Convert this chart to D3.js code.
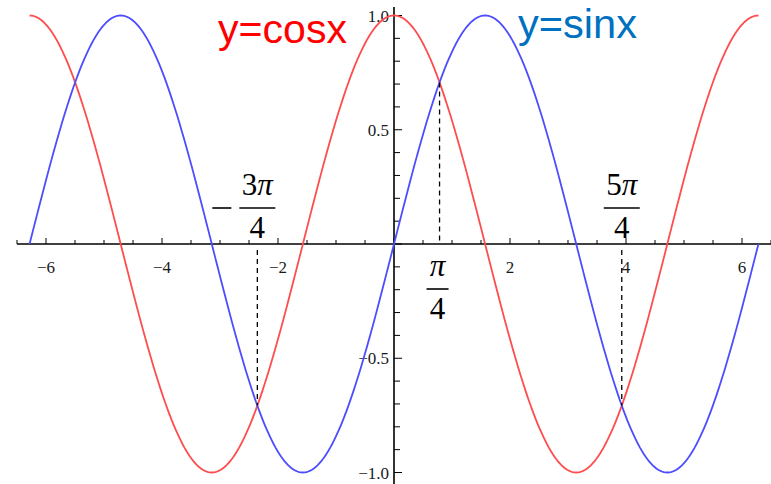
<!DOCTYPE html>
<html>
<head>
<meta charset="utf-8">
<script src="https://cdn.jsdelivr.net/npm/d3@7"></script>
<style>
  html, body { margin: 0; padding: 0; background: #fff; }
  svg { display: block; }
</style>
</head>
<body>
<svg id="chart" width="771" height="484"></svg>
<script>
// Sample points along one full span of both curves
const PI = Math.PI;
const sampleX = d3.range(0, 401).map(i => -2 * PI + i * (4 * PI / 400));
const cosValues = sampleX.map(Math.cos);
const sinValues = sampleX.map(Math.sin);

// Axis ticks
const xMajorTicks = [-6, -4, -2, 2, 4, 6];
const xMinorTicks = d3.range(-6.5, 6.51, 0.5);
const yMajorTicks = [-1, -0.5, 0.5, 1];
const yTickLabels = ["\u22121.0", "\u22120.5", "0.5", "1.0"];
const yMinorTicks = d3.range(-10, 11).map(i => i / 10);

// Marked intersection points of the two curves
const markers = [
  { x: PI / 4, y: Math.SQRT1_2, coef: "", neg: false, below: true },
  { x: -3 * PI / 4, y: -Math.SQRT1_2, coef: "3", neg: true, below: false },
  { x: 5 * PI / 4, y: -Math.SQRT1_2, coef: "5", neg: false, below: false }
];

const svg = d3.select("#chart");
const x = d3.scaleLinear().domain([-6.5, 6.5]).range([17, 771]);
const y = d3.scaleLinear().domain([-1, 1]).range([472.5, 15.5]);

const redLine = "#ff4d4d";
const blueLine = "#4d4dff";

// Axes
svg.append("line")
  .attr("x1", x(-6.5)).attr("x2", 771)
  .attr("y1", y(0)).attr("y2", y(0))
  .attr("stroke", "#000").attr("stroke-width", 1.6);
svg.append("line")
  .attr("x1", x(0)).attr("x2", x(0))
  .attr("y1", 7).attr("y2", 484)
  .attr("stroke", "#000").attr("stroke-width", 1.6);

// x ticks (pointing up)
svg.append("g").selectAll("line").data(xMinorTicks).join("line")
  .attr("x1", d => x(d)).attr("x2", d => x(d))
  .attr("y1", y(0)).attr("y2", d => y(0) - (Number.isInteger(d / 2) ? 6 : 4))
  .attr("stroke", "#000").attr("stroke-width", 1);
svg.append("g").selectAll("text").data(xMajorTicks).join("text")
  .attr("x", d => x(d)).attr("y", y(0) + 29)
  .attr("text-anchor", "middle")
  .attr("font-family", "Liberation Serif, serif")
  .attr("font-size", 17)
  .attr("fill", "#1a1a1a")
  .text(d => d < 0 ? "\u2212" + Math.abs(d) : d);

// y ticks (pointing right)
svg.append("g").selectAll("line").data(yMinorTicks).join("line")
  .attr("x1", x(0)).attr("x2", d => x(0) + (Math.abs(d * 2 - Math.round(d * 2)) < 1e-9 ? 8 : 6))
  .attr("y1", d => y(d)).attr("y2", d => y(d))
  .attr("stroke", "#000").attr("stroke-width", 1);
svg.append("g").selectAll("text").data(yMajorTicks).join("text")
  .attr("x", x(0) - 5).attr("y", d => y(d) + 6)
  .attr("text-anchor", "end")
  .attr("font-family", "Liberation Serif, serif")
  .attr("font-size", 17)
  .attr("fill", "#1a1a1a")
  .text((d, i) => yTickLabels[i]);

// Curves
const line = d3.line().x((d, i) => x(sampleX[i])).y(d => y(d)).curve(d3.curveLinear);
svg.append("path").datum(cosValues)
  .attr("d", line).attr("fill", "none")
  .attr("stroke", redLine).attr("stroke-width", 1.8);
svg.append("path").datum(sinValues)
  .attr("d", line).attr("fill", "none")
  .attr("stroke", blueLine).attr("stroke-width", 1.8);

// Dashed drop lines to the axis
svg.append("g").selectAll("line").data(markers).join("line")
  .attr("x1", d => x(d.x)).attr("x2", d => x(d.x))
  .attr("y1", d => d.y > 0 ? y(d.y) : y(0) + 6)
  .attr("y2", d => d.y > 0 ? y(0) : y(d.y))
  .attr("stroke", "#000").attr("stroke-width", 1.3)
  .attr("stroke-dasharray", "5,4");

// Fraction labels
const frac = svg.append("g").selectAll("g").data(markers).join("g")
  .attr("transform", d => {
    const cx = x(d.x) + (d.below ? -2 : 0);
    const barY = d.below ? y(0) + 45 : y(0) - 36;
    return `translate(${cx},${barY})`;
  });
const mathFont = "Liberation Serif, DejaVu Serif, serif";
const numer = frac.append("text")
  .attr("x", 0).attr("y", -13)
  .attr("text-anchor", "middle")
  .attr("font-family", mathFont).attr("font-size", 31)
  .attr("fill", "#000");
numer.append("tspan").text(d => d.coef);
numer.append("tspan").attr("font-style", "italic").text("\u03c0");
frac.append("line")
  .attr("x1", d => d.below ? -11 : -18).attr("x2", d => d.below ? 11 : 18)
  .attr("y1", 0).attr("y2", 0)
  .attr("stroke", "#000").attr("stroke-width", 1.6);
frac.append("text")
  .attr("x", 0).attr("y", 30)
  .attr("text-anchor", "middle")
  .attr("font-family", mathFont).attr("font-size", 31)
  .attr("fill", "#000")
  .text("4");
frac.filter(d => d.neg).append("line")
  .attr("x1", -45).attr("x2", -26)
  .attr("y1", 0).attr("y2", 0)
  .attr("stroke", "#000").attr("stroke-width", 1.6);

// Curve titles
svg.append("text")
  .attr("x", 218).attr("y", 43)
  .attr("font-family", "Liberation Sans, Arial, sans-serif")
  .attr("font-size", 40)
  .attr("textLength", 129).attr("lengthAdjust", "spacingAndGlyphs")
  .attr("fill", "#ff0000")
  .text("y=cosx");
svg.append("text")
  .attr("x", 518).attr("y", 38)
  .attr("font-family", "Liberation Sans, Arial, sans-serif")
  .attr("font-size", 40)
  .attr("textLength", 119).attr("lengthAdjust", "spacingAndGlyphs")
  .attr("fill", "#0070c0")
  .text("y=sinx");
</script>
</body>
</html>
